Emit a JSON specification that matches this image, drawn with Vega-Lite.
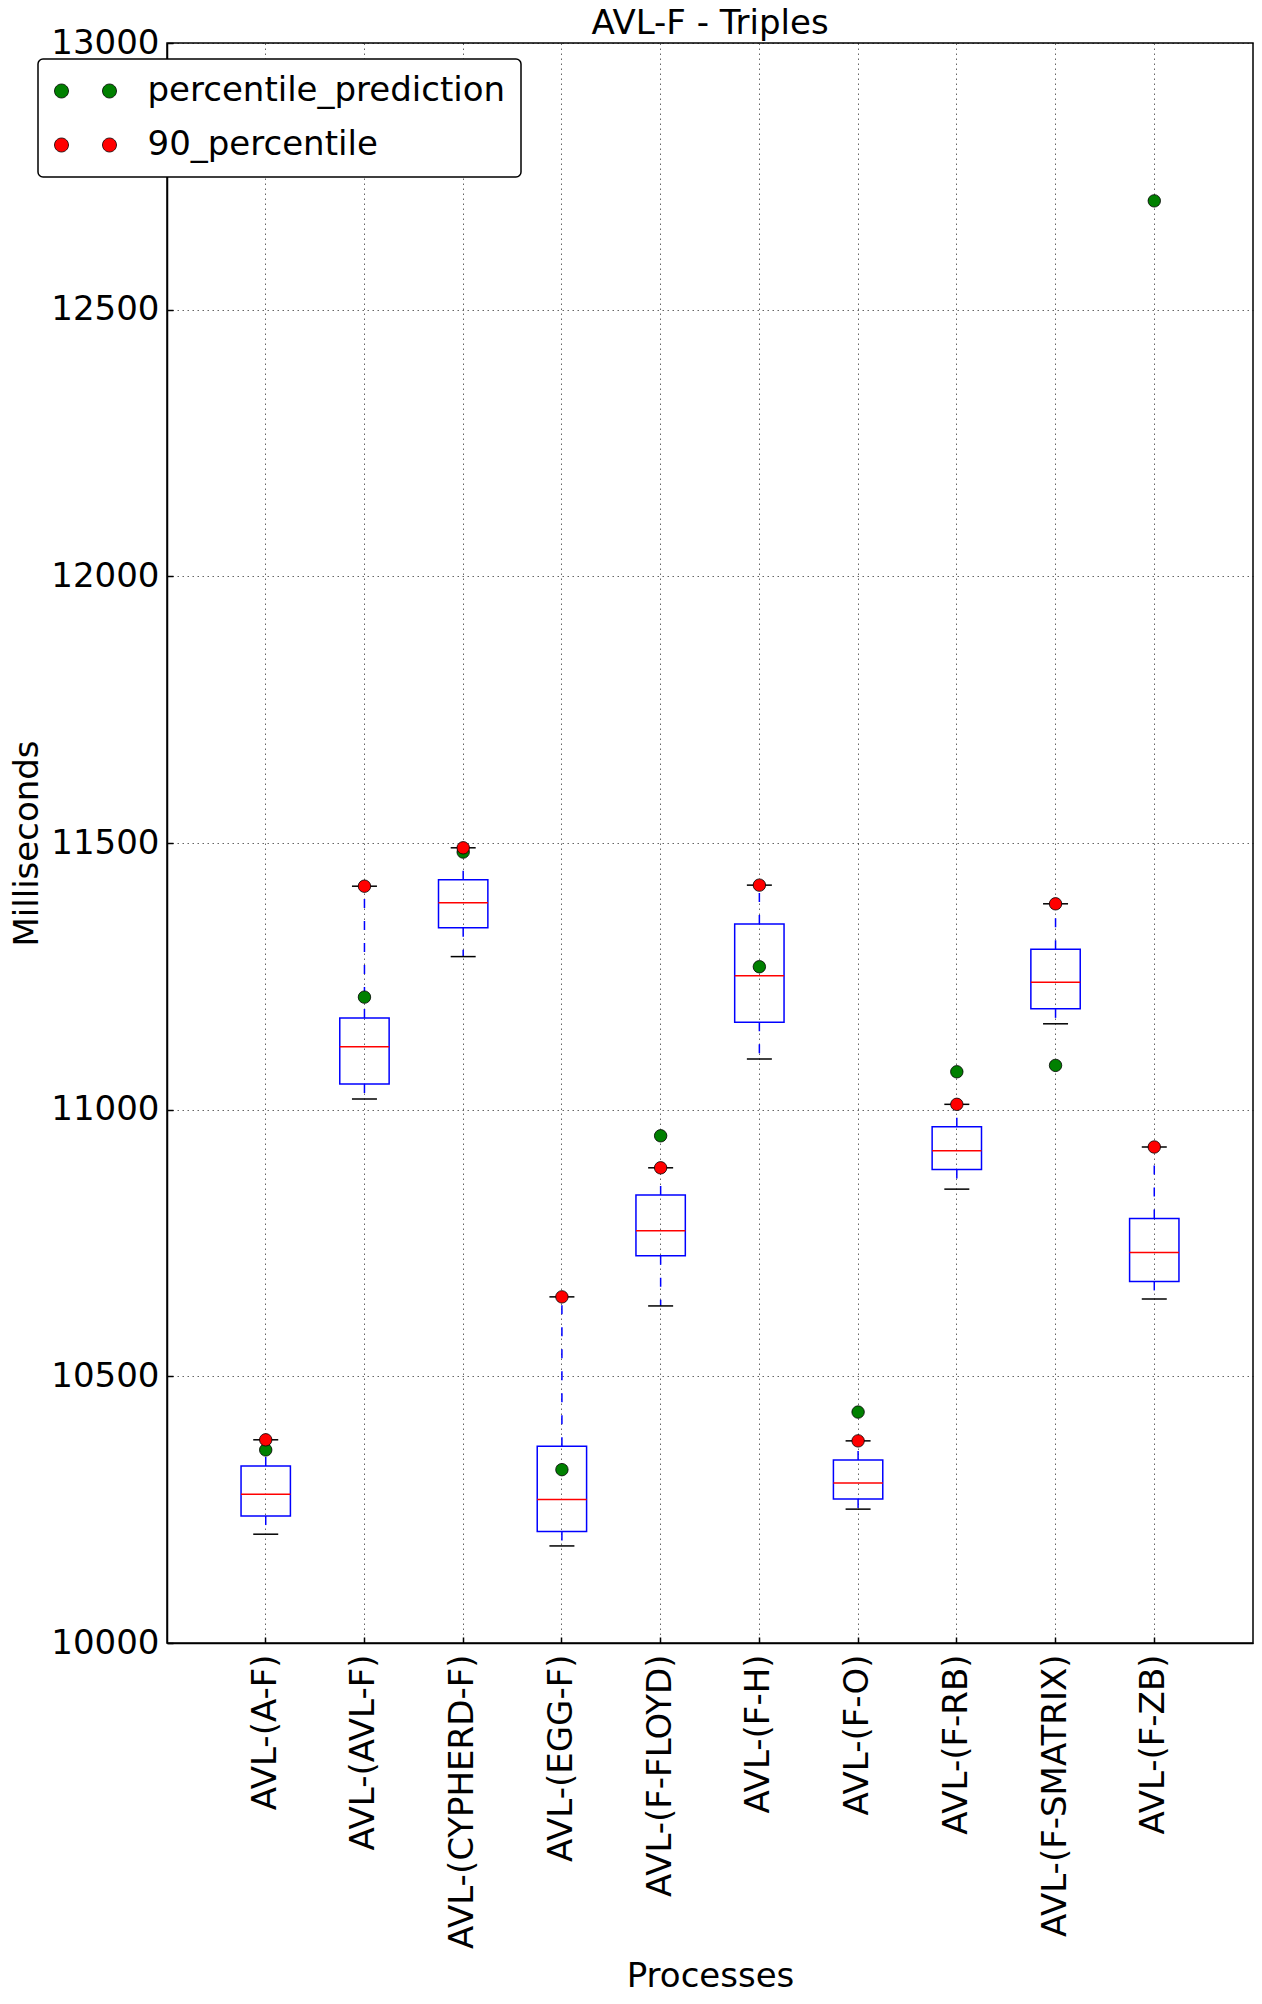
{
  "$schema": "https://vega.github.io/schema/vega-lite/v6.json",
  "width": 1086,
  "height": 1600,
  "autosize": {"type": "none"},
  "padding": {"left": 167, "top": 43, "right": 9, "bottom": 361},
  "background": "white",
  "title": {
    "text": "AVL-F - Triples",
    "fontSize": 34,
    "fontWeight": "normal",
    "font": "DejaVu Sans",
    "color": "black",
    "anchor": "middle",
    "frame": "group",
    "baseline": "alphabetic",
    "offset": -42.4
  },
  "datasets": {
    "boxes": [
      {"process": "AVL-(A-F)", "lo": 10204, "q1": 10238, "median": 10279, "q3": 10332, "hi": 10381},
      {"process": "AVL-(AVL-F)", "lo": 11020, "q1": 11048, "median": 11118, "q3": 11172, "hi": 11419},
      {"process": "AVL-(CYPHERD-F)", "lo": 11287, "q1": 11341, "median": 11388, "q3": 11431, "hi": 11491},
      {"process": "AVL-(EGG-F)", "lo": 10182, "q1": 10209, "median": 10269, "q3": 10369, "hi": 10649},
      {"process": "AVL-(F-FLOYD)", "lo": 10632, "q1": 10726, "median": 10773, "q3": 10840, "hi": 10891},
      {"process": "AVL-(F-H)", "lo": 11095, "q1": 11164, "median": 11251, "q3": 11348, "hi": 11421},
      {"process": "AVL-(F-O)", "lo": 10251, "q1": 10270, "median": 10300, "q3": 10343, "hi": 10379},
      {"process": "AVL-(F-RB)", "lo": 10851, "q1": 10888, "median": 10923, "q3": 10968, "hi": 11010},
      {"process": "AVL-(F-SMATRIX)", "lo": 11161, "q1": 11189, "median": 11239, "q3": 11301, "hi": 11386},
      {"process": "AVL-(F-ZB)", "lo": 10645, "q1": 10678, "median": 10732, "q3": 10796, "hi": 10930}
    ],
    "dots": [
      {"process": "AVL-(A-F)", "series": "percentile_prediction", "value": 10362},
      {"process": "AVL-(AVL-F)", "series": "percentile_prediction", "value": 11211},
      {"process": "AVL-(CYPHERD-F)", "series": "percentile_prediction", "value": 11483},
      {"process": "AVL-(EGG-F)", "series": "percentile_prediction", "value": 10325},
      {"process": "AVL-(F-FLOYD)", "series": "percentile_prediction", "value": 10951},
      {"process": "AVL-(F-H)", "series": "percentile_prediction", "value": 11268},
      {"process": "AVL-(F-O)", "series": "percentile_prediction", "value": 10433},
      {"process": "AVL-(F-RB)", "series": "percentile_prediction", "value": 11071},
      {"process": "AVL-(F-SMATRIX)", "series": "percentile_prediction", "value": 11083},
      {"process": "AVL-(F-ZB)", "series": "percentile_prediction", "value": 12704},
      {"process": "AVL-(A-F)", "series": "90_percentile", "value": 10381},
      {"process": "AVL-(AVL-F)", "series": "90_percentile", "value": 11419},
      {"process": "AVL-(CYPHERD-F)", "series": "90_percentile", "value": 11491},
      {"process": "AVL-(EGG-F)", "series": "90_percentile", "value": 10649},
      {"process": "AVL-(F-FLOYD)", "series": "90_percentile", "value": 10891},
      {"process": "AVL-(F-H)", "series": "90_percentile", "value": 11421},
      {"process": "AVL-(F-O)", "series": "90_percentile", "value": 10379},
      {"process": "AVL-(F-RB)", "series": "90_percentile", "value": 11010},
      {"process": "AVL-(F-SMATRIX)", "series": "90_percentile", "value": 11386},
      {"process": "AVL-(F-ZB)", "series": "90_percentile", "value": 10930}
    ]
  },
  "encoding": {
    "x": {
      "field": "process",
      "type": "nominal",
      "sort": null,
      "title": "Processes",
      "scale": {"type": "band", "paddingInner": 0.5, "paddingOuter": 0.75},
      "axis": {
        "labelAngle": -90,
        "labelLimit": 400,
        "labelPadding": 17,
        "tickSize": -6,
        "grid": true,
        "titlePadding": 116
      }
    }
  },
  "layer": [
    {
      "data": {"name": "boxes"},
      "mark": {"type": "rule", "color": "#0000FF", "strokeWidth": 1.5, "strokeDash": [9, 13]},
      "encoding": {
        "y": {"field": "q3", "type": "quantitative", "title": "Milliseconds",
              "scale": {"domain": [10000, 13000], "nice": false, "zero": false},
              "axis": {
                "values": [10000, 10500, 11000, 11500, 12000, 12500, 13000],
                "format": "d",
                "grid": true,
                "tickSize": -6,
                "labelPadding": 14,
                "labelFlush": false,
                "titlePadding": 6
              }},
        "y2": {"field": "hi"}
      }
    },
    {
      "data": {"name": "boxes"},
      "mark": {"type": "rule", "color": "#0000FF", "strokeWidth": 1.5, "strokeDash": [9, 13]},
      "encoding": {
        "y": {"field": "q1", "type": "quantitative", "title": "Milliseconds"},
        "y2": {"field": "lo"}
      }
    },
    {
      "data": {"name": "boxes"},
      "mark": {"type": "bar", "fill": "white", "fillOpacity": 0, "stroke": "#0000FF", "strokeWidth": 1.5},
      "encoding": {
        "y": {"field": "q1", "type": "quantitative", "title": "Milliseconds"},
        "y2": {"field": "q3"}
      }
    },
    {
      "data": {"name": "boxes"},
      "mark": {"type": "tick", "orient": "horizontal", "color": "#FF0000", "size": 49.4, "thickness": 1.5, "opacity": 1},
      "encoding": {
        "y": {"field": "median", "type": "quantitative", "title": "Milliseconds"}
      }
    },
    {
      "data": {"name": "boxes"},
      "mark": {"type": "tick", "orient": "horizontal", "color": "black", "size": 25, "thickness": 1.5, "opacity": 1},
      "encoding": {
        "y": {"field": "lo", "type": "quantitative", "title": "Milliseconds"}
      }
    },
    {
      "data": {"name": "boxes"},
      "mark": {"type": "tick", "orient": "horizontal", "color": "black", "size": 25, "thickness": 1.5, "opacity": 1},
      "encoding": {
        "y": {"field": "hi", "type": "quantitative", "title": "Milliseconds"}
      }
    },
    {
      "data": {"name": "dots"},
      "mark": {"type": "point", "filled": true, "size": 155, "opacity": 1, "stroke": "black", "strokeWidth": 0.8},
      "encoding": {
        "y": {"field": "value", "type": "quantitative", "title": "Milliseconds"},
        "color": {
          "field": "series",
          "type": "nominal",
          "scale": {"domain": ["percentile_prediction", "90_percentile"], "range": ["#008000", "#FF0000"]},
          "legend": {
            "title": null,
            "orient": "none",
            "legendX": -129,
            "legendY": 16,
            "direction": "vertical",
            "symbolType": "M-2.7305 0 A1.1245 1.1245 0 1 1 -4.9795 0 A1.1245 1.1245 0 1 1 -2.7305 0 Z M4.9795 0 A1.1245 1.1245 0 1 1 2.7305 0 A1.1245 1.1245 0 1 1 4.9795 0 Z",
            "symbolSize": 155,
            "symbolStrokeColor": "black",
            "symbolStrokeWidth": 0.8,
            "symbolOpacity": 1,
            "symbolOffset": 15.5,
            "labelOffset": 45,
            "labelFontSize": 34,
            "labelFont": "DejaVu Sans",
            "labelColor": "black",
            "labelLimit": 600,
            "rowPadding": 20,
            "padding": 15,
            "fillColor": "white",
            "strokeColor": "black",
            "cornerRadius": 5,
            "encode": {"legend": {"update": {"strokeWidth": {"value": 1.5}}}}
          }
        }
      }
    }
  ],
  "config": {
    "font": "DejaVu Sans",
    "view": {"stroke": "black", "strokeWidth": 1.5},
    "axis": {
      "zindex": 1,
      "domainColor": "black",
      "domainWidth": 1.5,
      "tickColor": "black",
      "tickWidth": 1.5,
      "gridColor": "black",
      "gridDash": [1.5, 3.5],
      "gridWidth": 1,
      "gridOpacity": 0.6,
      "labelFont": "DejaVu Sans",
      "labelFontSize": 34,
      "labelColor": "black",
      "titleFont": "DejaVu Sans",
      "titleFontSize": 34,
      "titleFontWeight": "normal",
      "titleColor": "black",
      "labelOverlap": false
    }
  }
}
